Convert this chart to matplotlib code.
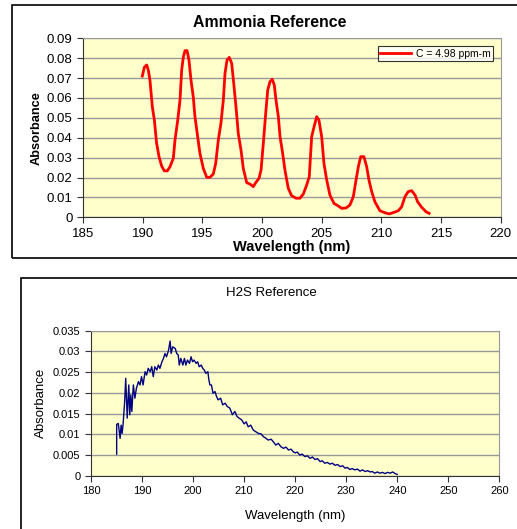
import matplotlib
matplotlib.use('Agg')
import matplotlib.pyplot as plt
from matplotlib.patches import Rectangle
from matplotlib.ticker import FuncFormatter, MultipleLocator

plt.rcParams['font.family'] = ['Liberation Sans', 'DejaVu Sans']

# Ammonia reference spectrum
nh3_wl = [189.97, 190.14, 190.34, 190.47, 190.61, 190.81, 190.98, 191.17, 191.37, 191.59,
          191.81, 192.06, 192.29, 192.57, 192.71, 192.94, 193.13, 193.27, 193.41, 193.55,
          193.72, 193.88, 194.05, 194.24, 194.38, 194.61, 194.80, 195.08, 195.37, 195.64,
          195.92, 196.12, 196.34, 196.56, 196.76, 196.90, 197.07, 197.26, 197.46, 197.63,
          197.82, 198.01, 198.24, 198.43, 198.72, 199.00, 199.27, 199.47, 199.75, 199.92,
          200.11, 200.31, 200.48, 200.67, 200.86, 201.03, 201.17, 201.37, 201.51, 201.73,
          201.92, 202.20, 202.48, 202.85, 203.18, 203.46, 203.74, 203.96, 204.16, 204.36,
          204.58, 204.77, 205.00, 205.19, 205.42, 205.69, 206.03, 206.39, 206.68, 207.04,
          207.37, 207.65, 207.88, 208.07, 208.27, 208.54, 208.77, 208.96, 209.19, 209.46,
          209.88, 210.30, 210.66, 211.06, 211.42, 211.70, 211.98, 212.25, 212.54, 212.82,
          213.04, 213.38, 213.74, 214.00]
nh3_abs = [0.0710, 0.0754, 0.0766, 0.0741, 0.0690, 0.0556, 0.0489, 0.0372, 0.0305, 0.0258,
           0.0234, 0.0233, 0.0254, 0.0297, 0.0389, 0.0489, 0.0590, 0.0741, 0.0807, 0.0838,
           0.0838, 0.0791, 0.0690, 0.0606, 0.0506, 0.0405, 0.0322, 0.0246, 0.0201, 0.0201,
           0.0218, 0.0271, 0.0389, 0.0473, 0.0590, 0.0724, 0.0791, 0.0804, 0.0774, 0.0674,
           0.0556, 0.0422, 0.0338, 0.0246, 0.0174, 0.0167, 0.0154, 0.0174, 0.0196, 0.0238,
           0.0372, 0.0523, 0.0640, 0.0682, 0.0694, 0.0665, 0.0590, 0.0506, 0.0405, 0.0322,
           0.0238, 0.0146, 0.0109, 0.0096, 0.0096, 0.0117, 0.0162, 0.0204, 0.0405, 0.0455,
           0.0506, 0.0489, 0.0405, 0.0271, 0.0188, 0.0112, 0.0070, 0.0057, 0.0045, 0.0047,
           0.0062, 0.0104, 0.0188, 0.0254, 0.0305, 0.0305, 0.0254, 0.0188, 0.0129, 0.0078,
           0.0033, 0.0023, 0.0017, 0.0025, 0.0033, 0.0053, 0.0104, 0.0129, 0.0134, 0.0112,
           0.0078, 0.0050, 0.0028, 0.0020]

# H2S reference spectrum
h2s_wl = [185.03, 185.03, 185.35, 185.7, 185.9, 186.1, 186.3, 186.6, 186.8, 187.1,
          187.4, 187.6, 187.8, 188.0, 188.3, 188.6, 188.9, 189.3, 189.6, 189.9,
          190.2, 190.6, 190.9, 191.2, 191.6, 191.9, 192.2, 192.5, 192.9, 193.2,
          193.5, 193.9, 194.2, 194.5, 194.8, 195.2, 195.5, 195.7, 196.0, 196.5,
          196.8, 197.1, 197.3, 197.6, 198.0, 198.3, 198.6, 198.9, 199.3, 199.6,
          199.9, 200.2, 200.6, 200.9, 201.2, 201.6, 201.9, 202.2, 202.5, 202.9,
          203.1, 203.3, 203.6, 203.9, 204.3, 204.6, 204.9, 205.4, 205.8, 206.3,
          206.7, 207.2, 207.7, 208.2, 208.6, 209.0, 209.5, 210.0, 210.4, 210.8,
          211.3, 211.8, 212.3, 212.8, 213.3, 213.8, 214.3, 214.7, 215.3, 215.7,
          216.2, 216.7, 217.2, 217.7, 218.2, 218.7, 219.2, 219.6, 220.0, 220.4,
          220.9, 221.4, 221.9, 222.4, 222.9, 223.4, 223.9, 224.4, 224.9, 225.3,
          225.8, 226.3, 226.8, 227.3, 227.8, 228.3, 228.8, 229.3, 229.8, 230.2,
          230.7, 231.2, 231.7, 232.2, 232.7, 233.2, 233.7, 234.2, 234.7, 235.1,
          235.6, 236.1, 236.6, 237.1, 237.6, 238.1, 238.6, 239.1, 239.6, 240.0]
h2s_abs = [0.0052, 0.0124, 0.0126, 0.0090, 0.0122, 0.0102, 0.0126, 0.0179, 0.0235, 0.0139,
           0.0219, 0.0147, 0.0195, 0.0155, 0.0219, 0.0187, 0.0211, 0.0227, 0.0219, 0.0239,
           0.0219, 0.0251, 0.0243, 0.0259, 0.0251, 0.0263, 0.0239, 0.0263, 0.0255, 0.0267,
           0.0259, 0.0275, 0.0283, 0.0295, 0.0287, 0.0303, 0.0325, 0.0295, 0.0311, 0.0307,
           0.0295, 0.0291, 0.0267, 0.0283, 0.0267, 0.0283, 0.0267, 0.0279, 0.0271, 0.0287,
           0.0275, 0.0279, 0.0271, 0.0275, 0.0263, 0.0267, 0.0259, 0.0255, 0.0247, 0.0251,
           0.0231, 0.0219, 0.0219, 0.0199, 0.0203, 0.0191, 0.0183, 0.0187, 0.0171, 0.0175,
           0.0167, 0.0163, 0.0147, 0.0155, 0.0143, 0.0139, 0.0135, 0.0125, 0.0130, 0.0118,
           0.0122, 0.0110, 0.0106, 0.0102, 0.0101, 0.0094, 0.0090, 0.0086, 0.0088, 0.0082,
           0.0074, 0.0078, 0.0070, 0.0066, 0.0069, 0.0062, 0.0064, 0.0058, 0.0055, 0.0057,
           0.0050, 0.0052, 0.0046, 0.0048, 0.0042, 0.0045, 0.0039, 0.0041, 0.0034, 0.0036,
           0.0030, 0.0032, 0.0028, 0.0030, 0.0025, 0.0027, 0.0022, 0.0024, 0.0018, 0.0020,
           0.0015, 0.0017, 0.0014, 0.0016, 0.0011, 0.0014, 0.0010, 0.0012, 0.0009, 0.0010,
           0.0006, 0.0009, 0.0006, 0.0008, 0.0005, 0.0008, 0.0006, 0.0009, 0.0005, 0.0003]

nh3_label = 'C = 4.98 ppm-m'

fig = plt.figure(figsize=(5.17, 5.29), dpi=100)

# outer chart borders, like the Excel chart areas
fig.add_artist(Rectangle((0.0232, 0.5123), 1.1, 0.4782, transform=fig.transFigure,
                         fill=False, edgecolor='black', linewidth=1.2, clip_on=False))
fig.add_artist(Rectangle((0.040, -0.05), 1.1, 0.5239, transform=fig.transFigure,
                         fill=False, edgecolor='black', linewidth=1.2, clip_on=False))

fmt = FuncFormatter(lambda v, p: '%g' % round(v, 4))


def style_axes(ax, tick_size):
    ax.set_facecolor('#FFFFCC')
    ax.grid(True, axis='y', color='#999999', linewidth=1.0)
    ax.set_axisbelow(True)
    ax.spines['top'].set_color('#999999')
    ax.spines['right'].set_color('#999999')
    ax.spines['left'].set_color('#333333')
    ax.spines['bottom'].set_color('#333333')
    ax.tick_params(direction='out', length=4, width=0.8, color='#333333',
                   labelsize=tick_size)
    ax.yaxis.set_major_formatter(fmt)


# Ammonia chart
ax1 = fig.add_axes([0.1605, 0.5892, 0.808, 0.3384])
style_axes(ax1, 9.5)
ax1.plot(nh3_wl, nh3_abs, color='#FF0000', linewidth=2.0, label=nh3_label)
ax1.set_xlim(185, 220)
ax1.set_ylim(0, 0.09)
ax1.xaxis.set_major_locator(MultipleLocator(5))
ax1.yaxis.set_major_locator(MultipleLocator(0.01))
ax1.set_xlabel('Wavelength (nm)', fontsize=10.5, fontweight='bold', labelpad=0)
ax1.set_ylabel('Absorbance', fontsize=9.2, fontweight='bold', labelpad=3)
fig.text(0.522, 0.958, 'Ammonia Reference', ha='center', va='center',
         fontsize=11.4, fontweight='bold')
leg = ax1.legend(loc='upper right', bbox_to_anchor=(0.9536, 0.913),
                 bbox_transform=fig.transFigure, borderaxespad=0, fontsize=7.5,
                 frameon=True, fancybox=False, handlelength=3.0, borderpad=0.25,
                 handletextpad=0.4)
leg.get_frame().set_edgecolor('black')
leg.get_frame().set_linewidth(0.8)

# H2S chart
ax2 = fig.add_axes([0.176, 0.1008, 0.7898, 0.2741])
style_axes(ax2, 8)
ax2.plot(h2s_wl, h2s_abs, color='#000080', linewidth=1.0)
ax2.set_xlim(180, 260)
ax2.set_ylim(0, 0.035)
ax2.xaxis.set_major_locator(MultipleLocator(10))
ax2.yaxis.set_major_locator(MultipleLocator(0.005))
ax2.set_xlabel('Wavelength (nm)', fontsize=9.5, labelpad=10)
ax2.set_ylabel('Absorbance', fontsize=9.5, labelpad=4)
fig.text(0.524, 0.4455, 'H2S Reference', ha='center', va='center', fontsize=9.5)

fig.savefig('out.png', dpi=100)
